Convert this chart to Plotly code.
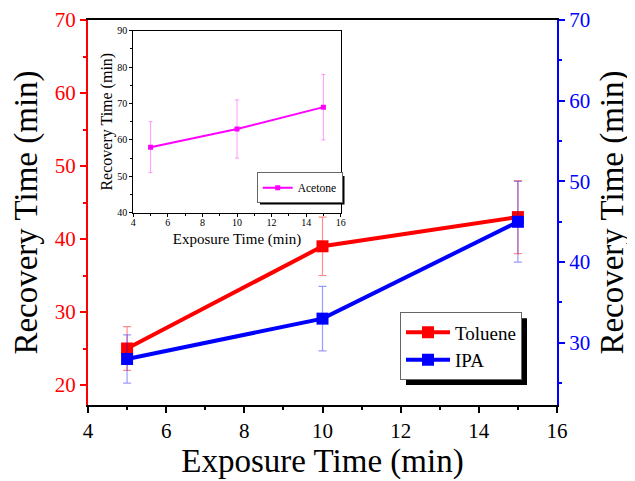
import plotly.graph_objects as go

# ---- data ----
exposure = [5, 10, 15]
toluene = [25, 39, 43]
toluene_err = [3, 4, 5]
ipa = [28, 33, 45]
ipa_err = [3, 4, 5]
acetone = [58, 63, 69]
acetone_err = [7, 8, 9]

x_ticks = [4, 6, 8, 10, 12, 14, 16]
left_ticks = [20, 30, 40, 50, 60, 70]
right_ticks = [30, 40, 50, 60, 70]
inset_y_ticks = [40, 50, 60, 70, 80, 90]

FONT = "Liberation Serif, Times New Roman, serif"
RED = "#ff0000"
BLUE = "#0000ff"
MAG = "#ff00ff"

fig = go.Figure()

fig.add_trace(go.Scatter(
    x=exposure, y=toluene, name="Toluene", mode="lines+markers",
    line=dict(color=RED, width=4),
    marker=dict(symbol="square", size=12, color=RED),
    error_y=dict(type="data", array=toluene_err, color="rgba(255,0,0,0.45)", thickness=1.2, width=4),
    xaxis="x", yaxis="y", legend="legend"))

fig.add_trace(go.Scatter(
    x=exposure, y=ipa, name="IPA", mode="lines+markers",
    line=dict(color=BLUE, width=4),
    marker=dict(symbol="square", size=12, color=BLUE),
    error_y=dict(type="data", array=ipa_err, color="rgba(0,0,255,0.4)", thickness=1.2, width=4),
    xaxis="x", yaxis="y2", legend="legend"))

fig.add_trace(go.Scatter(
    x=exposure, y=acetone, name="Acetone", mode="lines+markers",
    line=dict(color=MAG, width=2),
    marker=dict(symbol="square", size=5, color=MAG),
    error_y=dict(type="data", array=acetone_err, color="rgba(255,0,255,0.4)", thickness=1, width=2),
    xaxis="x3", yaxis="y3", legend="legend2"))

# the page body adds an 8px offset; window coordinates below are converted
OFF = 8
W, H = 635 - OFF, 481 - OFF
PL, PR, PT, PB = 88, 557, 20, 405   # plot area in window pixels
L, R, T, B = PL - OFF, W - (PR - OFF), PT - OFF, H - (PB - OFF)
pw, ph = PR - PL, PB - PT


def px_x(px):
    return (px - PL) / pw


def px_y(py):
    return (PB - py) / ph


fig.update_layout(
    width=W, height=H,
    margin=dict(l=L, r=R, t=T, b=B, autoexpand=False),
    paper_bgcolor="white", plot_bgcolor="white",
    font=dict(family=FONT, color="black"),
    xaxis=dict(
        domain=[0, 1], range=[4, 16], tickvals=x_ticks, automargin=False,
        showgrid=False, zeroline=False,
        showline=True, linecolor="black", linewidth=2, mirror=True,
        ticks="outside", ticklen=6, tickwidth=2, tickcolor="black",
        minor=dict(dtick=1, ticks="outside", ticklen=3, tickwidth=2, tickcolor="black"),
        tickfont=dict(size=21, color="black", family=FONT),
        title=dict(text="Exposure Time (min)", font=dict(size=33, family=FONT), standoff=3),
        anchor="y"),
    yaxis=dict(
        domain=[0, 1], range=[17.26, 70], tickvals=left_ticks, automargin=False,
        showgrid=False, zeroline=False,
        showline=True, linecolor=RED, linewidth=2,
        ticks="outside", ticklen=6, tickwidth=2, tickcolor=RED,
        minor=dict(tick0=25, dtick=10, ticks="outside", ticklen=3, tickwidth=2, tickcolor=RED),
        tickfont=dict(size=21, color=RED, family=FONT),
        title=dict(text="Recovery Time (min)", font=dict(size=33, color="black", family=FONT), standoff=8),
        anchor="x"),
    yaxis2=dict(
        range=[22.3, 70], tickvals=right_ticks, overlaying="y", side="right", automargin=False,
        showgrid=False, zeroline=False,
        showline=True, linecolor=BLUE, linewidth=2,
        ticks="outside", ticklen=6, tickwidth=2, tickcolor=BLUE,
        minor=dict(tick0=25, dtick=10, ticks="outside", ticklen=3, tickwidth=2, tickcolor=BLUE),
        tickfont=dict(size=21, color=BLUE, family=FONT),
        title=dict(text="Recovery Time (min)", font=dict(size=33, color="black", family=FONT), standoff=11),
        anchor="x"),
    xaxis3=dict(
        domain=[px_x(133.3), px_x(340.7)], range=[4, 16], tickvals=x_ticks, automargin=False,
        showgrid=False, zeroline=False,
        showline=True, linecolor="black", linewidth=1.3, mirror=True,
        ticks="outside", ticklen=3, tickwidth=1, tickcolor="black",
        minor=dict(dtick=1, ticks="outside", ticklen=2, tickwidth=1, tickcolor="black"),
        tickfont=dict(size=10, color="black", family=FONT), ticklabelstandoff=-3,
        title=dict(text="Exposure Time (min)", font=dict(size=15, family=FONT), standoff=6),
        anchor="y3"),
    yaxis3=dict(
        domain=[px_y(212.7), px_y(30.7)], range=[40, 90], tickvals=inset_y_ticks, automargin=False,
        showgrid=False, zeroline=False,
        showline=True, linecolor="black", linewidth=1.3, mirror=True,
        ticks="outside", ticklen=3, tickwidth=1, tickcolor="black",
        minor=dict(tick0=45, dtick=10, ticks="outside", ticklen=2, tickwidth=1, tickcolor="black"),
        tickfont=dict(size=10, color="black", family=FONT),
        title=dict(text="Recovery Time (min)", font=dict(size=16, family=FONT), standoff=0),
        anchor="x3"),
    legend=dict(
        x=px_x(400), y=px_y(312.3), xanchor="left", yanchor="top",
        bgcolor="white", bordercolor="#666666", borderwidth=1,
        font=dict(size=19, family=FONT), tracegroupgap=0, itemwidth=44),
    legend2=dict(
        x=px_x(256.7), y=px_y(172.3), xanchor="left", yanchor="top",
        bgcolor="white", bordercolor="#666666", borderwidth=1,
        font=dict(size=11.5, family=FONT), itemwidth=30),
    showlegend=True,
)

# legend drop shadows
fig.add_shape(type="rect", xref="paper", yref="paper",
              x0=px_x(406), x1=px_x(527), y0=px_y(385), y1=px_y(318.3),
              fillcolor="black", line=dict(width=0), layer="above")
fig.add_shape(type="rect", xref="paper", yref="paper",
              x0=px_x(260), x1=px_x(344.5), y0=px_y(204.5), y1=px_y(176),
              fillcolor="black", line=dict(width=0), layer="above")

fig.write_html("out.html")
